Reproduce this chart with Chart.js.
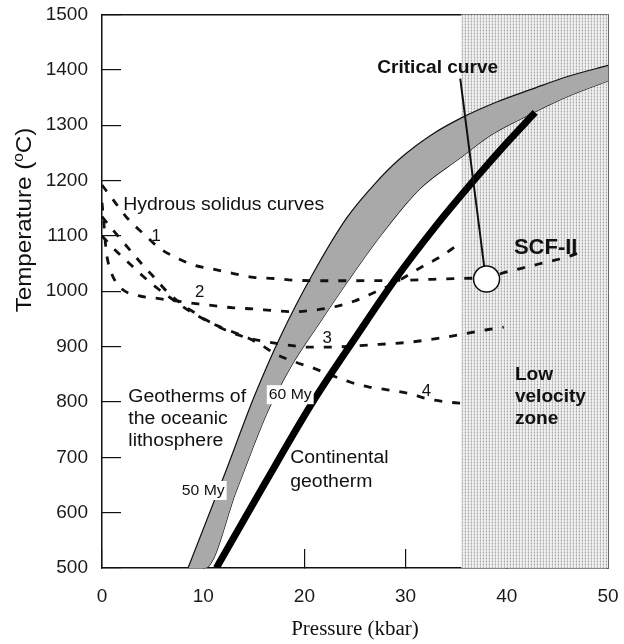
<!DOCTYPE html>
<html>
<head>
<meta charset="utf-8">
<script src="https://cdn.jsdelivr.net/npm/chart.js@4.4.1/dist/chart.umd.min.js"></script>
<style>
  html, body { margin: 0; padding: 0; background: #fff; }
</style>
</head>
<body>
<canvas id="grafico" width="624" height="644"></canvas>
<script>
// ---- EJES ----
var X_TICKS = [0, 10, 20, 30, 40, 50];
var Y_TICKS = [500, 600, 700, 800, 900, 1000, 1100, 1200, 1300, 1400, 1500];

// ---- ZONA DE BAJA VELOCIDAD (kbar) ----
var LVZ_P = [35.5, 50];

// ---- GEOTERMAS OCEÁNICAS (banda gris, 50 My arriba / 60 My abajo) ----
var OC50_P = [8.5, 12.3, 15, 17.6, 20.85, 24.2, 27, 29.4, 32.5, 35.7, 39, 42.6, 46, 50];
var OC50_T = [500, 678, 808, 917, 1032, 1133, 1195, 1239, 1282, 1315, 1342, 1366, 1388, 1408];
var OC60_P = [8.5, 10.2, 13.3, 16.3, 18.8, 21.2, 24.2, 27.5, 31.4, 35.4, 38.5, 42, 46, 50];
var OC60_T = [500, 500, 641, 780, 868, 935, 1016, 1100, 1185, 1241, 1283, 1317, 1352, 1380];

// ---- GEOTERMA CONTINENTAL ----
var CONT_P = [11.3, 16, 21, 25, 29, 33, 36.5, 40, 42.8];
var CONT_T = [500, 650, 805, 915, 1022, 1118, 1195, 1268, 1323];

// ---- CURVAS DE SOLIDUS HIDRATADO (1-4) ----
var SOL1_P = [0, 1.4, 2.6, 4.1, 5.6, 7.3, 9.1, 11, 13, 15, 17, 19, 22, 25, 30, 35, 38, 40, 42, 44, 46, 47.7];
var SOL1_T = [1192, 1158, 1130, 1104, 1079, 1061, 1047, 1040, 1032, 1025, 1023, 1020, 1019, 1019, 1020, 1023, 1025, 1035, 1044, 1053, 1062, 1074];
var SOL2_P = [0, 0.2, 0.4, 0.9, 1.8, 3.6, 5.5, 7.5, 9.5, 11, 13, 15, 17, 19, 21, 23, 24.9, 26.8, 28.8, 31.5, 33.4, 35.1];
var SOL2_T = [1160, 1120, 1075, 1035, 1007, 992, 987, 982, 977, 974, 970, 968, 965, 963, 966, 972, 982, 997, 1014, 1043, 1062, 1083];
var SOL3_P = [0, 1.2, 2.6, 4, 5.3, 6.5, 7.8, 9, 10.3, 12.2, 14.5, 16.5, 18.3, 20.3, 22.3, 26.4, 30.4, 33.9, 37.9, 39.7];
var SOL3_T = [1135, 1108, 1078, 1048, 1022, 998, 978, 963, 948, 930, 915, 908, 903, 899, 899, 903, 908, 917, 930, 935];
var SOL4_P = [0, 1, 2.6, 4, 5.5, 7, 8.5, 10, 11.5, 13, 14.5, 16, 17, 19.1, 20.9, 22.7, 24.5, 26.4, 28.2, 30.4, 32.1, 34.1, 35.9];
var SOL4_T = [1100, 1080, 1052, 1028, 1005, 985, 966, 950, 937, 926, 915, 900, 888, 872, 861, 848, 836, 827, 822, 815, 806, 800, 797];

// ---- CURVA CRÍTICA (indicador) Y PUNTO SCF-II ----
var CRIT_P = [35.4, 37.8];
var CRIT_T = [1384, 1040];
var SCF_P = [38.0];
var SCF_T = [1022];

// ---- ROTULOS (texto, P, T, estilo) ----
var LABELS = [
  ["Critical curve",         27.2, 1403, "bold"],
  ["SCF-II",                 40.7, 1079, "big"],
  ["Hydrous solidus curves", 2.1,  1155, "normal"],
  ["1",                      4.9,  1099, "num"],
  ["2",                      9.2,  998,  "num"],
  ["3",                      21.8, 915,  "num"],
  ["4",                      31.6, 818,  "num"],
  ["Geotherms of",           2.6,  809,  "normal"],
  ["the oceanic",            2.6,  769,  "normal"],
  ["lithosphere",            2.6,  729,  "normal"],
  ["Continental",            18.6, 698,  "normal"],
  ["geotherm",               18.6, 655,  "normal"],
  ["Low",                    40.8, 848,  "bold"],
  ["velocity",               40.8, 809,  "bold"],
  ["zone",                   40.8, 769,  "bold"],
  ["50 My",                  10.0, 641,  "caja"],
  ["60 My",                  18.6, 814,  "caja"]
];

// ---- ESTILOS ----
var SANS  = "'Liberation Sans', Arial, Helvetica, sans-serif";
var SERIF = "'Liberation Serif', 'Times New Roman', serif";
var ESTILOS = {
  normal: { font: "18px " + SANS,      sx: 1.08 },
  num:    { font: "16px " + SANS,      sx: 1.05 },
  bold:   { font: "bold 18px " + SANS, sx: 1.06 },
  big:    { font: "bold 22px " + SANS, sx: 1.0 },
  caja:   { font: "15px " + SANS,      sx: 1.05 }
};

// ---- HELPERS ----
function puntos(P, T) {
  return P.map(function(p, i) { return { x: p, y: T[i] }; });
}

// trama punteada de la zona de baja velocidad
function trama(ctx) {
  var c = document.createElement("canvas");
  c.width = 3; c.height = 3;
  var g = c.getContext("2d");
  g.fillStyle = "#eeeeee"; g.fillRect(0, 0, 3, 3);
  g.fillStyle = "#a9a9a9"; g.fillRect(0, 0, 1, 1);
  g.fillStyle = "#cdcdcd"; g.fillRect(0, 1, 1, 1); g.fillRect(0, 2, 1, 1);
  g.fillStyle = "#dcdcdc"; g.fillRect(2, 0, 1, 1);
  return ctx.createPattern(c, "repeat");
}

function texto(ctx, txt, x, y, font, align, sx) {
  ctx.save();
  ctx.font = font;
  ctx.textAlign = align;
  ctx.textBaseline = "middle";
  ctx.translate(x, y);
  ctx.scale(sx, 1);
  ctx.fillText(txt, 0, 0);
  ctx.restore();
}

function sinPadding(s) {
  s.paddingLeft = 0; s.paddingRight = 0; s.paddingTop = 0; s.paddingBottom = 0;
}

// ---- PLUGIN: zona sombreada + textos ----
var rotulos = {
  id: "rotulos",
  beforeDatasetsDraw: function(chart) {
    var ctx = chart.ctx, a = chart.chartArea, sx = chart.scales.x;
    var x0 = sx.getPixelForValue(LVZ_P[0]), x1 = sx.getPixelForValue(LVZ_P[1]);
    ctx.save();
    ctx.fillStyle = trama(ctx);
    ctx.fillRect(x0, a.top, x1 - x0, a.bottom - a.top);
    ctx.restore();
  },
  afterDraw: function(chart) {
    var ctx = chart.ctx, sx = chart.scales.x, sy = chart.scales.y, a = chart.chartArea;
    ctx.save();
    ctx.fillStyle = "#111";
    LABELS.forEach(function(l) {
      var st = ESTILOS[l[3]];
      var px = sx.getPixelForValue(l[1]), py = sy.getPixelForValue(l[2]);
      if (l[3] === "caja") {
        ctx.font = st.font;
        var w = ctx.measureText(l[0]).width * st.sx + 4;
        ctx.fillStyle = "#fff";
        ctx.fillRect(px - w / 2, py - 9, w, 19);
        ctx.fillStyle = "#111";
        texto(ctx, l[0], px, py + 0.5, st.font, "center", st.sx);
      } else {
        texto(ctx, l[0], px, py, st.font, "left", st.sx);
      }
    });

    // titulo eje X
    texto(ctx, "Pressure (kbar)", (a.left + a.right) / 2, 630, "20px " + SERIF, "center", 1.05);

    // titulo eje Y con superindice
    var f1 = "22px " + SANS, f2 = "14px " + SANS;
    ctx.translate(23, 220);
    ctx.rotate(-Math.PI / 2);
    ctx.scale(1.1, 1);
    ctx.font = f1;
    var wa = ctx.measureText("Temperature (").width, wc = ctx.measureText("C)").width;
    ctx.font = f2;
    var wb = ctx.measureText("o").width;
    var x = -(wa + wb + wc) / 2;
    ctx.textAlign = "left";
    ctx.textBaseline = "alphabetic";
    ctx.font = f1; ctx.fillText("Temperature (", x, 8);
    ctx.font = f2; ctx.fillText("o", x + wa, 0);
    ctx.font = f1; ctx.fillText("C)", x + wa + wb, 8);
    ctx.restore();
  }
};

// ---- DATASETS ----
var dashed = { borderColor: "#111", borderWidth: 2.8, borderDash: [8, 10], fill: false, order: 5 };

var datasets = [
  // punto SCF-II
  { data: puntos(SCF_P, SCF_T), showLine: false, pointRadius: 13, pointBackgroundColor: "#fff",
    pointBorderColor: "#111", pointBorderWidth: 1.5, order: 1 },
  // indicador curva critica
  { data: puntos(CRIT_P, CRIT_T), borderColor: "#111", borderWidth: 2, cubicInterpolationMode: "default",
    tension: 0, order: 2 },
  // geoterma continental
  { data: puntos(CONT_P, CONT_T), borderColor: "#000", borderWidth: 7, borderCapStyle: "butt", clip: 0, order: 3 },
  // solidus
  Object.assign({ data: puntos(SOL1_P, SOL1_T) }, dashed),
  Object.assign({ data: puntos(SOL2_P, SOL2_T) }, dashed),
  Object.assign({ data: puntos(SOL3_P, SOL3_T) }, dashed),
  Object.assign({ data: puntos(SOL4_P, SOL4_T) }, dashed),
  // banda oceanica
  { data: puntos(OC50_P, OC50_T), borderColor: "#111", borderWidth: 1.2, backgroundColor: "#a9a9a9",
    fill: { target: 8 }, order: 8 },
  { data: puntos(OC60_P, OC60_T), borderColor: "#111", borderWidth: 1.2, fill: false, order: 9 }
];

var fuenteTicks = { family: SANS, size: 19 };
function etiqueta(v) { return String(v); }

new Chart(document.getElementById("grafico"), {
  type: "line",
  data: { datasets: datasets },
  plugins: [rotulos],
  options: {
    responsive: false,
    animation: false,
    events: [],
    layout: { padding: { left: 0, top: 14, right: 16, bottom: 0 } },
    plugins: { legend: { display: false }, tooltip: { enabled: false } },
    elements: {
      point: { radius: 0 },
      line: { cubicInterpolationMode: "monotone" }
    },
    scales: {
      x: {
        type: "linear", position: "bottom", min: 0, max: 50, z: 1,
        afterFit: function(s) { s.height = 76; sinPadding(s); },
        afterBuildTicks: function(s) { s.ticks = X_TICKS.map(function(v) { return { value: v }; }); },
        grid: { drawOnChartArea: false, drawTicks: true, tickLength: -19, color: "#111", lineWidth: 1.2 },
        border: { color: "#111", width: 1.5 },
        ticks: { padding: 36, color: "#1a1a1a", font: fuenteTicks, maxRotation: 0, callback: etiqueta }
      },
      x2: {
        type: "linear", axis: "x", position: "top", min: 0, max: 50, z: 1,
        afterFit: function(s) { s.height = 0; sinPadding(s); },
        grid: { display: false }, ticks: { display: false },
        border: { color: "#111", width: 1.5 }
      },
      y: {
        type: "linear", position: "left", min: 500, max: 1500, z: 1,
        afterFit: function(s) { s.width = 102; sinPadding(s); },
        afterBuildTicks: function(s) { s.ticks = Y_TICKS.map(function(v) { return { value: v }; }); },
        grid: { drawOnChartArea: false, drawTicks: true, tickLength: -19, color: "#111", lineWidth: 1.2 },
        border: { color: "#111", width: 1.5 },
        ticks: { padding: 33, color: "#1a1a1a", font: fuenteTicks, callback: etiqueta }
      },
      y2: {
        type: "linear", axis: "y", position: "right", min: 500, max: 1500, z: 1,
        afterFit: function(s) { s.width = 0; sinPadding(s); },
        grid: { display: false }, ticks: { display: false },
        border: { color: "#666", width: 1 }
      }
    }
  }
});
</script>
</body>
</html>
